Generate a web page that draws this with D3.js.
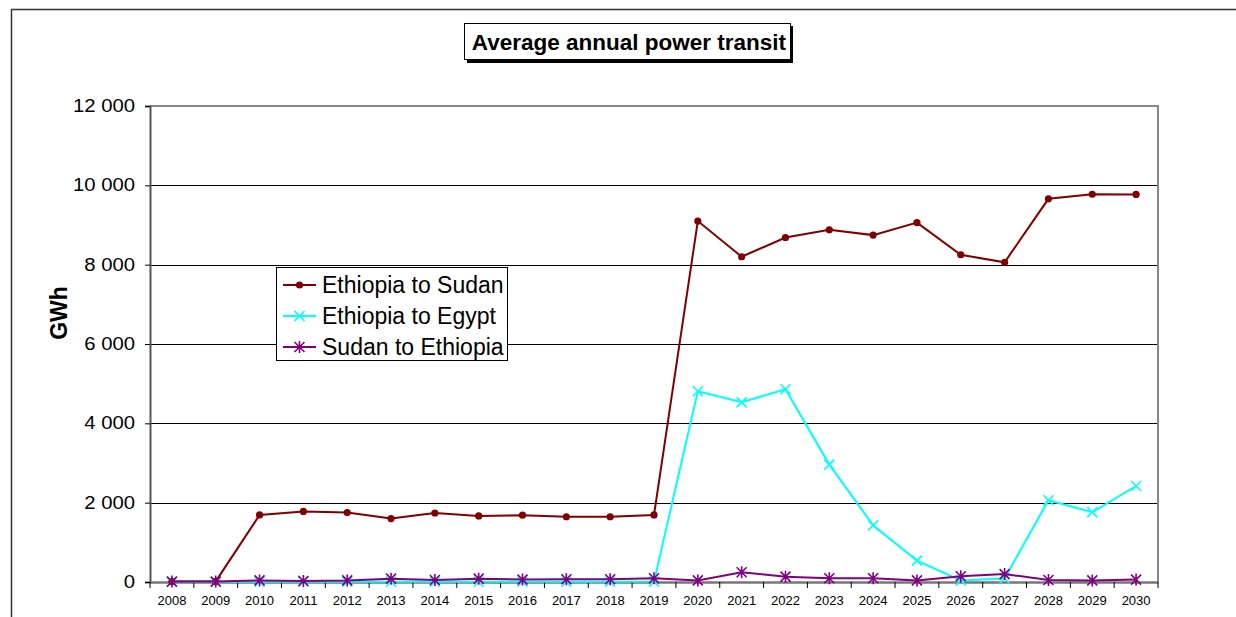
<!DOCTYPE html>
<html>
<head>
<meta charset="utf-8">
<script src="https://cdn.jsdelivr.net/npm/d3@7"></script>
<style>
  body { margin:0; background:#fff; }
  svg text { font-family: Arial, "Liberation Sans", sans-serif; }
</style>
</head>
<body>
<script>
  // chart data
  var years = d3.range(2008, 2031).map(String)
  var ethSudan = [10, 15, 1690, 1780, 1750, 1600, 1740, 1665, 1685, 1645, 1645, 1690,
                  9100, 8200, 8685, 8880, 8745, 9060, 8250, 8060, 9660, 9775, 9770]
  var ethEgypt = [5, 5, 5, 5, 5, 5, 5, 5, 5, 5, 5, 10,
                  4810, 4530, 4860, 2960, 1430, 540, 40, 90, 2060, 1760, 2420]
  var sudanEth = [10, 10, 40, 25, 40, 85, 50, 85, 60, 70, 70, 95,
                  40, 245, 135, 95, 95, 40, 145, 200, 50, 40, 60]
  var yTicks = [0, 2000, 4000, 6000, 8000, 10000, 12000]

  var series = [
    { name: "Ethiopia to Sudan", values: ethSudan, color: "#800000", marker: "dot" },
    { name: "Ethiopia to Egypt", values: ethEgypt, color: "#00ffff", marker: "cross" },
    { name: "Sudan to Ethiopia", values: sudanEth, color: "#800080", marker: "star" }
  ]

  var W = 1236, H = 617
  var svg = d3.select("body").append("svg")
    .attr("width", W)
    .attr("height", H)

  // outer chart frame
  svg.append("line").attr("x1", 11.5).attr("x2", 11.5).attr("y1", 9).attr("y2", H)
    .attr("stroke", "#333").attr("stroke-width", 1.5)
  svg.append("line").attr("x1", 11).attr("x2", W).attr("y1", 9.5).attr("y2", 9.5)
    .attr("stroke", "#333").attr("stroke-width", 1.5)

  var pLeft = 150, pRight = 1158, pTop = 106, pBottom = 582

  var x = d3.scaleBand().domain(years).range([pLeft, pRight]).padding(0)
  var y = d3.scaleLinear().domain([0, 12000]).range([pBottom, pTop])

  var loc = d3.formatLocale({ decimal: ".", thousands: "\u00a0", grouping: [3], currency: ["", ""] })
  var fmt = loc.format(",")

  // gridlines
  svg.append("g").selectAll("line").data(yTicks.slice(1, -1)).enter()
    .append("line")
    .attr("x1", pLeft).attr("x2", pRight)
    .attr("y1", function(d) { return Math.round(y(d)) + 0.5 })
    .attr("y2", function(d) { return Math.round(y(d)) + 0.5 })
    .attr("stroke", "#000").attr("stroke-width", 1)

  // plot area border top / right
  svg.append("line").attr("x1", pLeft).attr("x2", pRight + 1).attr("y1", pTop).attr("y2", pTop)
    .attr("stroke", "#888").attr("stroke-width", 2)
  svg.append("line").attr("x1", pRight).attr("x2", pRight).attr("y1", pTop).attr("y2", pBottom)
    .attr("stroke", "#888").attr("stroke-width", 2)

  // y axis
  var yAxis = d3.axisLeft(y).tickValues(yTicks).tickFormat(fmt).tickSize(5).tickPadding(10)
  var gy = svg.append("g").attr("transform", "translate(" + pLeft + ",0)").call(yAxis)
  gy.select(".domain").attr("stroke", "#555").attr("stroke-width", 2)
  gy.selectAll(".tick line").attr("stroke", "#000")
  gy.selectAll("text").attr("font-size", 17.5).attr("fill", "#000")
    .attr("transform", "scale(1.16,1)").attr("x", -15 / 1.16)

  // x axis
  var xAxis = d3.axisBottom(x).tickSize(0).tickPadding(14)
  var gx = svg.append("g").attr("transform", "translate(0," + pBottom + ")").call(xAxis)
  gx.select(".domain").attr("stroke", "#777").attr("stroke-width", 2.5)
  gx.selectAll("text").attr("font-size", 13).attr("fill", "#000")
  var bounds = years.map(function(d) { return x(d) }).concat([x.range()[1]])
  gx.selectAll(".bound").data(bounds).enter().append("line")
    .attr("class", "bound")
    .attr("x1", function(d) { return d }).attr("x2", function(d) { return d })
    .attr("y1", 0).attr("y2", 6)
    .attr("stroke", "#000").attr("stroke-width", 1)

  // y label
  svg.append("text")
    .attr("transform", "translate(67,313) rotate(-90)")
    .attr("text-anchor", "middle")
    .attr("font-size", 23).attr("font-weight", "bold")
    .text("GWh")

  // markers
  function drawMarker(g, type, color) {
    if (type === "dot") {
      g.append("circle").attr("r", 3.6).attr("fill", color)
    } else if (type === "cross") {
      g.append("path").attr("d", "M-5,-5L5,5M-5,5L5,-5")
        .attr("stroke", color).attr("stroke-width", 1.6).attr("fill", "none")
    } else {
      g.append("path").attr("d", "M-5,-5L5,5M-5,5L5,-5M0,-6L0,6")
        .attr("stroke", color).attr("stroke-width", 1.6).attr("fill", "none")
    }
  }

  var line = d3.line()
    .x(function(d, i) { return x(years[i]) + x.bandwidth() / 2 })
    .y(function(d) { return y(d) })

  series.forEach(function(s) {
    var g = svg.append("g")
    g.append("path").datum(s.values)
      .attr("d", line)
      .attr("fill", "none")
      .attr("stroke", s.color)
      .attr("stroke-width", 2)
    s.values.forEach(function(v, i) {
      var m = g.append("g")
        .attr("transform", "translate(" + (x(years[i]) + x.bandwidth() / 2) + "," + y(v) + ")")
      drawMarker(m, s.marker, s.color)
    })
  })

  // title box
  var tg = svg.append("g")
  tg.append("rect").attr("x", 467).attr("y", 26).attr("width", 326).attr("height", 37).attr("fill", "#000")
  tg.append("rect").attr("x", 464.5).attr("y", 23.5).attr("width", 326).attr("height", 36)
    .attr("fill", "#fff").attr("stroke", "#000").attr("stroke-width", 1)
  tg.append("text").attr("x", 629).attr("y", 50)
    .attr("text-anchor", "middle")
    .attr("font-size", 22.5).attr("font-weight", "bold")
    .text("Average annual power transit")

  // legend
  var lg = svg.append("g")
  lg.append("rect").attr("x", 276.5).attr("y", 267.5).attr("width", 231).attr("height", 93)
    .attr("fill", "#fff").attr("stroke", "#000").attr("stroke-width", 1)
  series.forEach(function(s, i) {
    var cy = 285 + i * 31
    lg.append("line").attr("x1", 283).attr("x2", 316).attr("y1", cy).attr("y2", cy)
      .attr("stroke", s.color).attr("stroke-width", 2)
    var m = lg.append("g").attr("transform", "translate(299.5," + cy + ")")
    drawMarker(m, s.marker, s.color)
    lg.append("text").attr("x", 322).attr("y", cy + 8)
      .attr("font-size", 23)
      .text(s.name)
  })
</script>
</body>
</html>
